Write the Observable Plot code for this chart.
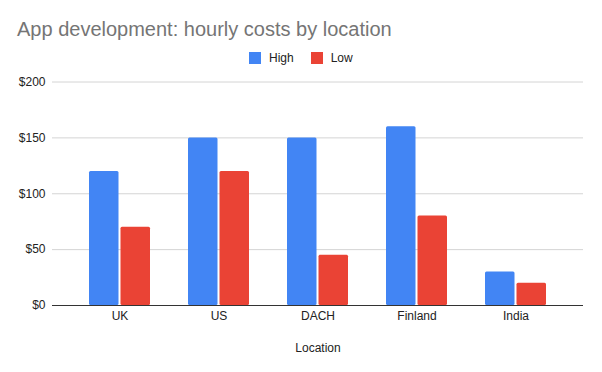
<!DOCTYPE html>
<html>
<head>
<meta charset="utf-8">
<script src="https://cdn.jsdelivr.net/npm/d3@7"></script>
<script src="https://cdn.jsdelivr.net/npm/@observablehq/plot@0.6"></script>
<style>
  html, body { margin: 0; padding: 0; background: #fff; }
  #wrap { position: relative; width: 602px; height: 372px; overflow: hidden; font-family: "Liberation Sans", Arial, sans-serif; }
  #title { position: absolute; left: 17px; top: 19px; font-size: 20px; line-height: 20px; color: #757575; white-space: nowrap; }
  #legend { position: absolute; left: 249px; top: 41.5px; }
  #chart { position: absolute; left: 0; top: 72px; }
  .lg-swatches, .lg-swatch { font-family: "Liberation Sans", Arial, sans-serif !important; }
  .lg-swatch { margin-right: 17px !important; font-size: 12px !important; color: #222; }
  .lg-swatch > svg { margin-right: 8px !important; }
</style>
</head>
<body>
<div id="wrap">
  <div id="title">App development: hourly costs by location</div>
  <div id="legend"></div>
  <div id="chart"></div>
</div>
<script>
const locations = ["UK", "US", "DACH", "Finland", "India"];
const highValues = [120, 150, 150, 160, 30];
const lowValues = [70, 120, 45, 80, 20];
const seriesNames = ["High", "Low"];
const seriesColors = ["#4285F4", "#EA4335"];
const yTicks = [0, 50, 100, 150, 200];

const highRows = locations.map((loc, i) => ({location: loc, series: "High", value: highValues[i]}));
const lowRows = locations.map((loc, i) => ({location: loc, series: "Low", value: lowValues[i]}));

const plot = Plot.plot({
  width: 602,
  height: 300,
  marginLeft: 52,
  marginRight: 19,
  marginTop: 9.5,
  marginBottom: 67,
  style: {fontSize: "12px", fontFamily: "'Liberation Sans', Arial, sans-serif", color: "#222", background: "transparent"},
  x: {domain: locations, paddingInner: 0.388, paddingOuter: 0.359},
  y: {domain: [0, 200]},
  color: {domain: seriesNames, range: seriesColors},
  marks: [
    Plot.ruleY(yTicks, {stroke: "#d4d4d4", strokeWidth: 1}),
    Plot.barY(highRows, {x: "location", y: "value", fill: "series", insetRight: 31.5, rx: 1.5}),
    Plot.barY(lowRows, {x: "location", y: "value", fill: "series", insetLeft: 31.5, rx: 1.5}),
    Plot.ruleY([0], {stroke: "#333", strokeWidth: 1}),
    Plot.axisY({ticks: yTicks, tickFormat: d => "$" + d, tickSize: 0, tickPadding: 7, label: null}),
    Plot.axisX({anchor: "bottom", tickSize: 0, tickPadding: 6, label: "Location", labelAnchor: "center", labelOffset: 46, labelArrow: false})
  ]
});
document.getElementById("chart").appendChild(plot);

const legend = plot.legend("color", {className: "lg", swatchSize: 12});
document.getElementById("legend").appendChild(legend);
</script>
</body>
</html>
